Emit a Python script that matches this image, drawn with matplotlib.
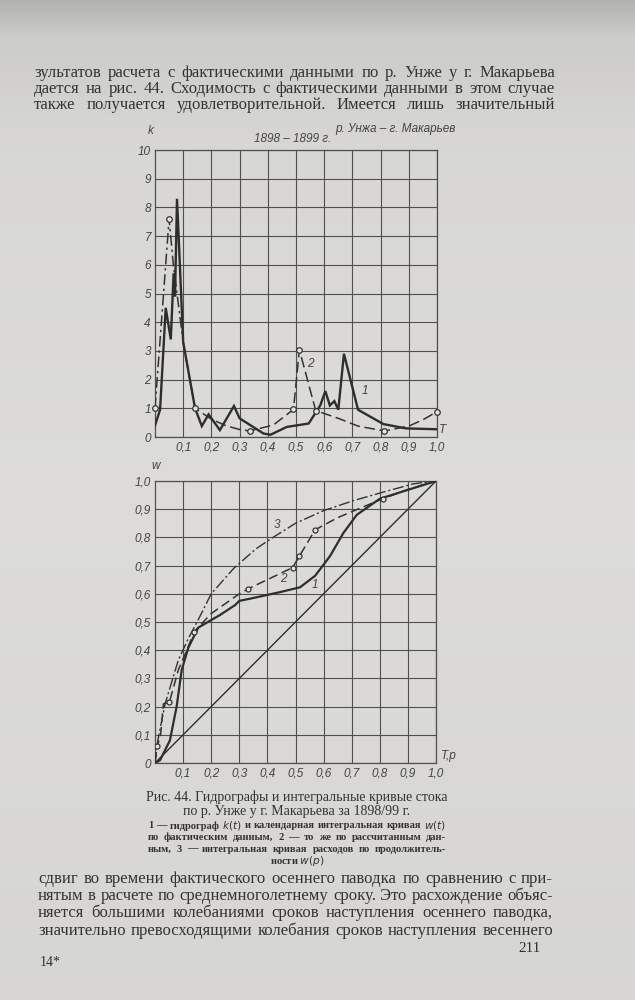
import numpy as np
import matplotlib
matplotlib.use('Agg')
import matplotlib.pyplot as plt

# ---- data ----
# hydrograph k(t), curve 1 (observed)
t1 = [0, 0.018, 0.038, 0.056, 0.066, 0.071, 0.078, 0.10, 0.142, 0.166, 0.19, 0.23,
      0.28, 0.30, 0.385, 0.41, 0.467, 0.545, 0.586, 0.604, 0.62, 0.636, 0.65,
      0.67, 0.72, 0.81, 0.89, 1.0]
k1 = [0.4, 0.95, 4.5, 3.4, 5.7, 4.9, 8.3, 3.3, 1.0, 0.38, 0.79, 0.24,
      1.08, 0.65, 0.12, 0.08, 0.35, 0.47, 1.1, 1.6, 1.1, 1.25, 0.95,
      2.9, 0.95, 0.45, 0.3, 0.27]
# hydrograph k(t), curve 2 (computed)
t2 = [0, 0.05, 0.065, 0.10, 0.142, 0.2, 0.25, 0.30, 0.337, 0.42, 0.491, 0.512,
      0.57, 0.65, 0.72, 0.813, 0.9, 0.95, 1.0]
k2 = [1.0, 7.6, 6.0, 3.3, 1.0, 0.62, 0.4, 0.26, 0.21, 0.42, 0.96, 3.04,
      0.92, 0.65, 0.38, 0.21, 0.38, 0.6, 0.88]
t2_pts = [0, 0.05, 0.142, 0.337, 0.491, 0.512, 0.57, 0.813, 1.0]
k2_pts = [1.0, 7.6, 1.0, 0.21, 0.96, 3.04, 0.92, 0.21, 0.88]

# integral curves w
p1 = [0, 0.018, 0.053, 0.077, 0.095, 0.119, 0.154, 0.2, 0.23, 0.285, 0.30, 0.34,
      0.445, 0.516, 0.57, 0.623, 0.67, 0.718, 0.80, 0.895, 1.0]
w1 = [0, 0.01, 0.08, 0.2, 0.33, 0.41, 0.48, 0.507, 0.524, 0.56, 0.575, 0.583,
      0.606, 0.623, 0.664, 0.734, 0.815, 0.88, 0.937, 0.967, 1.0]
p2 = [0, 0.008, 0.02, 0.03, 0.051, 0.083, 0.113, 0.14, 0.2, 0.3, 0.33, 0.49,
      0.514, 0.57, 0.65, 0.81, 0.9, 1.0]
w2 = [0, 0.06, 0.10, 0.21, 0.215, 0.33, 0.40, 0.466, 0.53, 0.60, 0.617, 0.693,
      0.734, 0.827, 0.87, 0.937, 0.97, 1.0]
p2_pts = [0.008, 0.051, 0.14, 0.33, 0.49, 0.514, 0.57, 0.81]
w2_pts = [0.06, 0.215, 0.466, 0.617, 0.693, 0.734, 0.827, 0.937]
p3 = [0, 0.01, 0.036, 0.083, 0.118, 0.16, 0.2, 0.28, 0.36, 0.42, 0.5, 0.6,
      0.705, 0.81, 0.92, 1.0]
w3 = [0, 0.08, 0.21, 0.365, 0.44, 0.52, 0.60, 0.69, 0.76, 0.80, 0.85, 0.895,
      0.93, 0.96, 0.99, 1.0]
diag = [0, 1.0]

k_ticks = list(range(0, 11))
t_ticks = [0.1, 0.2, 0.3, 0.4, 0.5, 0.6, 0.7, 0.8, 0.9, 1.0]
t_labels = ['0,1', '0,2', '0,3', '0,4', '0,5', '0,6', '0,7', '0,8', '0,9', '1,0']
w_ticks = [0, 0.1, 0.2, 0.3, 0.4, 0.5, 0.6, 0.7, 0.8, 0.9, 1.0]
w_labels = ['0', '0,1', '0,2', '0,3', '0,4', '0,5', '0,6', '0,7', '0,8', '0,9', '1,0']

text_top = [
    'зультатов расчета с фактическими данными по р. Унже у г. Макарьева',
    'дается на рис. 44. Сходимость с фактическими данными в этом случае',
    'также получается удовлетворительной. Имеется лишь значительный',
]
text_bottom = [
    'сдвиг во времени фактического осеннего паводка по сравнению с при-',
    'нятым в расчете по среднемноголетнему сроку. Это расхождение объяс-',
    'няется большими колебаниями сроков наступления осеннего паводка,',
    'значительно превосходящими колебания сроков наступления весеннего',
]
caption = ['Рис. 44. Гидрографы и интегральные кривые стока',
           'по р. Унже у г. Макарьева за 1898/99 г.']
legend_lines = [
    '1 — гидрограф $k(t)$ и календарная интегральная кривая $w(t)$',
    'по фактическим данным, 2 — то же по рассчитанным дан-',
    'ным, 3 — интегральная кривая расходов по продолжитель-',
]
legend_last = 'ности $w(p)$'

INK = '#333333'
GRID = '#505050'
W, H = 635, 1000

fig = plt.figure(figsize=(6.35, 10), dpi=100)

# paper background
bg = fig.add_axes([0, 0, 1, 1], zorder=-5)
rows = np.interp(np.arange(H), [0, 35, 140, 500, 1000], [0.70, 0.80, 0.845, 0.865, 0.84])
img = np.stack([rows, rows * 0.997, rows * 0.98], axis=-1)[:, None, :].repeat(2, axis=1)
bg.imshow(img, aspect='auto', extent=[0, 1, 0, 1])
bg.axis('off')


def fx(x):
    return x / W


def fy(y):
    return 1 - y / H


def justify(line, x0, x1, y, **kw):
    words = line.split()
    r = fig.canvas.get_renderer()
    ts = [fig.text(0, fy(y), w, va='center', ha='left', **kw) for w in words]
    widths = [t.get_window_extent(r).width for t in ts]
    gap = (x1 - x0 - sum(widths)) / max(len(words) - 1, 1)
    x = x0
    for t, wd in zip(ts, widths):
        t.set_position((fx(x), fy(y)))
        x += wd + gap


body = dict(family='Liberation Serif', fontsize=12.0, color=INK)
for i, line in enumerate(text_top):
    justify(line, 34, 555, 73 + i * 16, **body)
for i, line in enumerate(text_bottom):
    justify(line, 38, 553, 879 + i * 17.2, **body)

fig.text(fx(541), fy(949), '211', ha='right', va='center',
         family='Liberation Serif', fontsize=11, color=INK)
fig.text(fx(40), fy(963), '14*', ha='left', va='center',
         family='Liberation Serif', fontsize=10, color=INK)

cap = dict(family='Liberation Serif', fontsize=10, color=INK)
fig.text(fx(297), fy(797), caption[0], ha='center', va='center', **cap)
fig.text(fx(297), fy(811), caption[1], ha='center', va='center', **cap)
small = dict(family='Liberation Serif', fontsize=7.6, color=INK, weight='bold')
for i, line in enumerate(legend_lines):
    justify(line, 148, 446, 826 + i * 11.5, **small)
fig.text(fx(297), fy(861), legend_last, ha='center', va='center', **small)

lab = dict(family='Liberation Sans', style='italic', fontsize=8.5, color='#444444')

# ---- top: hydrographs ----
ax1 = fig.add_axes([fx(155), fy(437), (437 - 155) / W, (437 - 150) / H])
ax1.set_facecolor('none')
ax1.plot(t1, k1, color='#2e2e2e', lw=1.7, solid_joinstyle='miter', zorder=4)
ax1.plot(t2[:4], k2[:4], color='#333333', lw=1.1, ls=(0, (7, 2.5, 1.5, 2.5)), zorder=3)
ax1.plot(t2[3:], k2[3:], color='#333333', lw=1.1, ls=(0, (7, 3)), zorder=3)
ax1.plot(t2_pts, k2_pts, 'o', ms=4, mfc='#e4e4e0', mec='#333333', mew=0.9, zorder=5, clip_on=False)
ax1.set_xlim(0, 1)
ax1.set_ylim(0, 10)
ax1.set_xticks(t_ticks)
ax1.set_xticklabels(t_labels, **lab)
ax1.set_yticks(k_ticks)
ax1.set_yticklabels([str(v) for v in k_ticks], **lab)
ax1.grid(True, color=GRID, lw=0.8)
ax1.tick_params(length=0, pad=3)
for s in ax1.spines.values():
    s.set_color(GRID)
    s.set_linewidth(0.9)
ax1.text(0.745, 1.6, '1', ha='center', va='center', **lab)
ax1.text(0.55, 2.55, '2', ha='center', va='center', **lab)
fig.text(fx(151), fy(131), 'k', ha='center', va='center', **lab)
fig.text(fx(443), fy(430), 'T', ha='center', va='center', **lab)
fig.text(fx(293), fy(139), '1898 – 1899 г.', ha='center', va='center', **lab)
fig.text(fx(395), fy(129), 'р. Унжа – г. Макарьев', ha='center', va='center', **lab)

# ---- bottom: integral curves ----
ax2 = fig.add_axes([fx(155), fy(763), (436 - 155) / W, (763 - 481) / H])
ax2.set_facecolor('none')
ax2.plot(diag, diag, color='#2e2e2e', lw=1.0, zorder=3)
ax2.plot(p3, w3, color='#333333', lw=1.0, ls=(0, (8, 2, 1.5, 2)), zorder=3)
ax2.plot(p2, w2, color='#333333', lw=1.1, ls=(0, (6, 3)), zorder=3)
ax2.plot(p2_pts, w2_pts, 'o', ms=3.6, mfc='#e4e4e0', mec='#333333', mew=0.9, zorder=5)
ax2.plot(p1, w1, color='#2e2e2e', lw=1.6, zorder=4)
ax2.set_xlim(0, 1)
ax2.set_ylim(0, 1)
ax2.set_xticks(t_ticks)
ax2.set_xticklabels(t_labels, **lab)
ax2.set_yticks(w_ticks)
ax2.set_yticklabels(w_labels, **lab)
ax2.grid(True, color=GRID, lw=0.8)
ax2.tick_params(length=0, pad=3)
for s in ax2.spines.values():
    s.set_color(GRID)
    s.set_linewidth(0.9)
ax2.text(0.433, 0.845, '3', ha='center', va='center', **lab)
ax2.text(0.457, 0.652, '2', ha='center', va='center', **lab)
ax2.text(0.57, 0.63, '1', ha='center', va='center', **lab)
fig.text(fx(156), fy(466), 'w', ha='center', va='center', **lab)
fig.text(fx(449), fy(756), 'T,p', ha='center', va='center', **lab)

fig.savefig('out.png', dpi=100)
